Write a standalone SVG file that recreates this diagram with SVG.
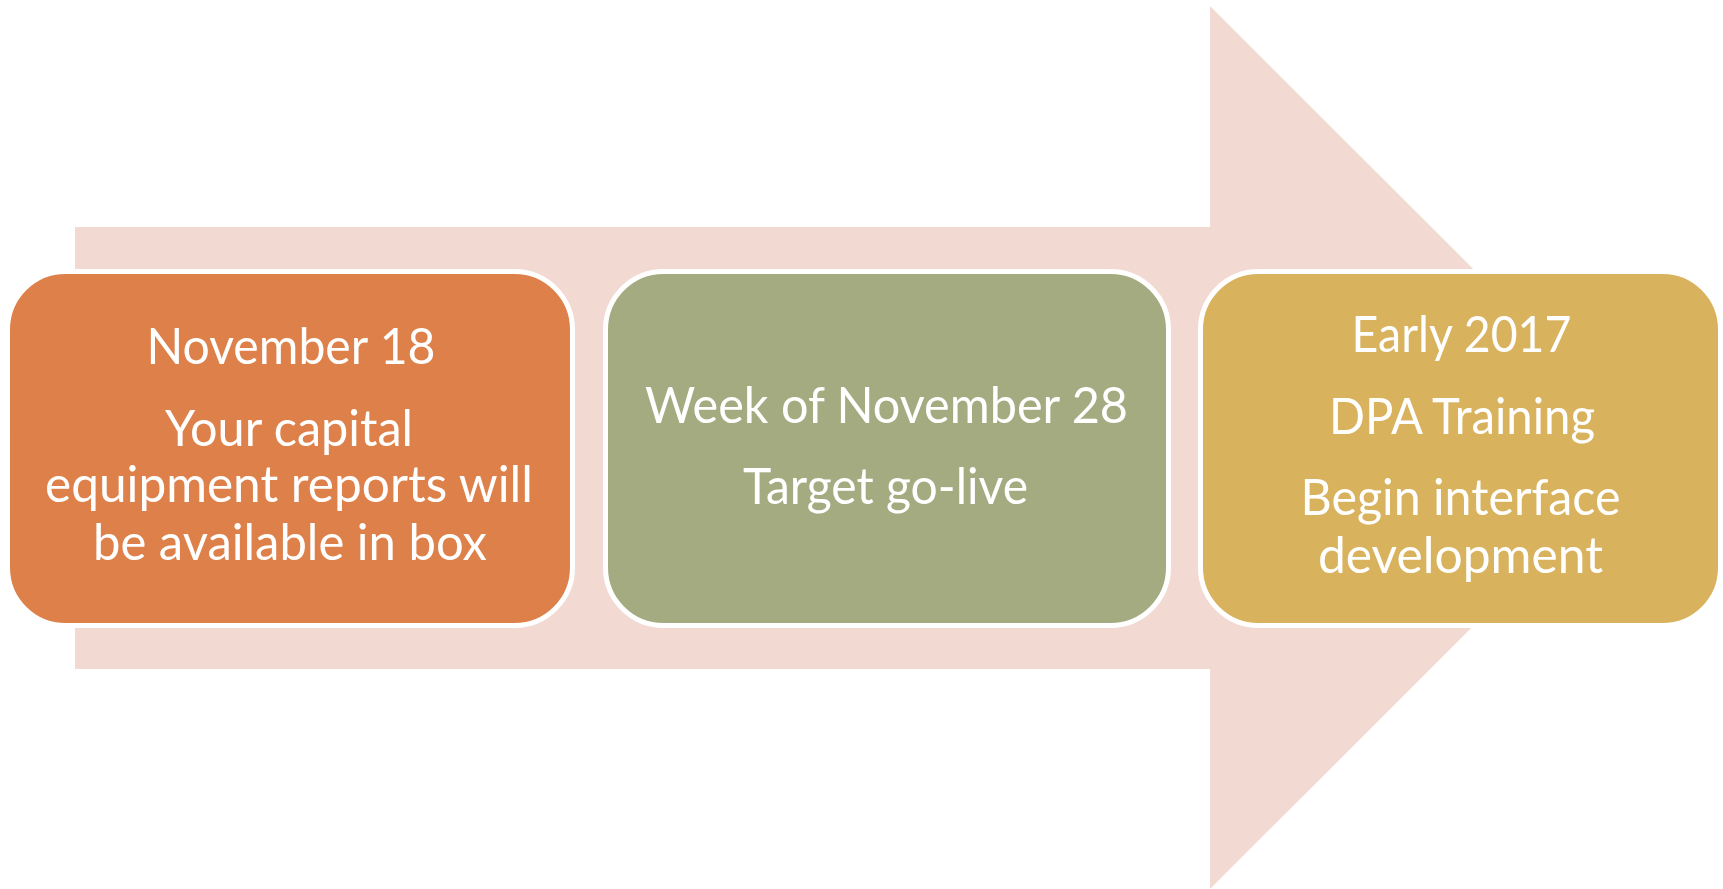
<svg xmlns="http://www.w3.org/2000/svg" width="1723" height="889" viewBox="0 0 1723 889">
  <style>
    .box { stroke: #FFFFFF; stroke-width: 5; }
    .t { font-family: Lato, "Open Sans", sans-serif; font-size: 50px; fill: #FFFFFF; text-anchor: middle; }
  </style>
  <rect width="1723" height="889" fill="#FFFFFF"/>
  <g id="arrow">
    <polygon points="75,227 1210,227 1210,6 1652,447.5 1210,889 1210,669 75,669" fill="#F2D9D1"/>
  </g>
  <g id="connectors"></g>
  <g id="node1">
    <rect class="box" x="7.5" y="271.5" width="565" height="354" rx="58" fill="#DE8049"/>
    <text class="t" x="291" y="364" textLength="289" lengthAdjust="spacingAndGlyphs">November 18</text>
    <text class="t" x="289" y="446" textLength="248" lengthAdjust="spacingAndGlyphs">Your capital</text>
    <text class="t" x="289" y="502" textLength="488" lengthAdjust="spacingAndGlyphs">equipment reports will</text>
    <text class="t" x="290" y="559.5" textLength="394" lengthAdjust="spacingAndGlyphs">be available in box</text>
  </g>
  <g id="node2">
    <rect class="box" x="605.5" y="271.5" width="563" height="354" rx="58" fill="#A5AB81"/>
    <text class="t" x="886.5" y="422.5" textLength="483" lengthAdjust="spacingAndGlyphs">Week of November 28</text>
    <text class="t" x="885.5" y="504" textLength="285" lengthAdjust="spacingAndGlyphs">Target go-live</text>
  </g>
  <g id="node3">
    <rect class="box" x="1200.5" y="271.5" width="520" height="354" rx="58" fill="#D8B25D"/>
    <text class="t" x="1461.5" y="352" textLength="220" lengthAdjust="spacingAndGlyphs">Early 2017</text>
    <text class="t" x="1462" y="434" textLength="266" lengthAdjust="spacingAndGlyphs">DPA Training</text>
    <text class="t" x="1460.5" y="515" textLength="320" lengthAdjust="spacingAndGlyphs">Begin interface</text>
    <text class="t" x="1460.5" y="573" textLength="285" lengthAdjust="spacingAndGlyphs">development</text>
  </g>
</svg>
